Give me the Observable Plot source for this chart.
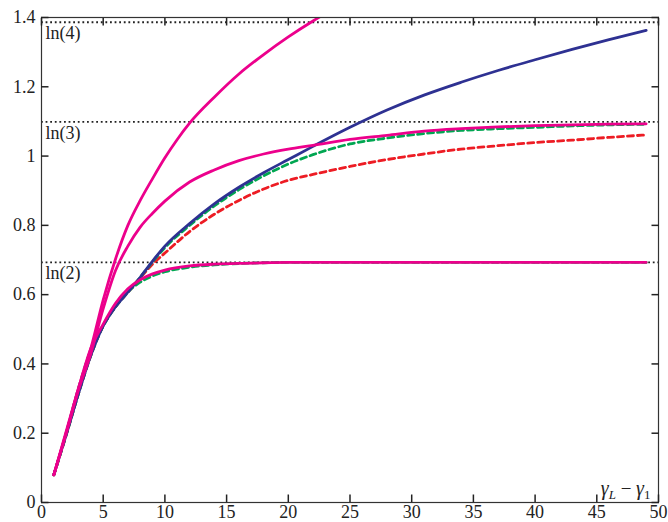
<!DOCTYPE html>
<html><head><meta charset="utf-8">
<script src="https://cdn.jsdelivr.net/npm/d3@7"></script>
<script src="https://cdn.jsdelivr.net/npm/@observablehq/plot@0.6"></script>
<style>body{margin:0;background:#fff}</style>
</head><body><div id="chart"></div>
<script>
// x positions (gamma_L - gamma_1)
const xs = [1,2,3,4,5,6,7,8,9,10,12,14,16,18,20,22,25,28,31,34,37,40,43,46,49];
const blueY  = [0.08,0.195,0.315,0.425,0.51,0.565,0.607,0.65,0.697,0.74,0.805,0.862,0.91,0.952,0.99,1.028,1.083,1.133,1.176,1.213,1.247,1.278,1.308,1.336,1.363];
const greenY = [0.08,0.195,0.315,0.425,0.51,0.565,0.607,0.65,0.695,0.736,0.8,0.856,0.903,0.943,0.977,1.004,1.035,1.052,1.065,1.074,1.079,1.083,1.087,1.09,1.092];
const redY   = [0.08,0.195,0.315,0.425,0.51,0.565,0.607,0.648,0.688,0.72,0.782,0.832,0.872,0.905,0.93,0.947,0.97,0.99,1.006,1.02,1.03,1.039,1.046,1.054,1.061];
const pinkLn3Y = [0.08,0.2,0.325,0.43,0.56,0.67,0.74,0.795,0.835,0.87,0.925,0.96,0.987,1.006,1.02,1.031,1.048,1.06,1.072,1.079,1.084,1.088,1.09,1.092,1.093];
const pinkLn2Y = [0.08,0.2,0.33,0.445,0.515,0.575,0.617,0.643,0.66,0.671,0.683,0.688,0.69,0.692,0.693,0.693,0.693,0.693,0.693,0.693,0.693,0.693,0.693,0.693,0.693];
const greenLowY = [0.08,0.2,0.33,0.44,0.51,0.567,0.608,0.636,0.654,0.666,0.679,0.686,0.69,0.692,0.693,0.693,0.693,0.693,0.693,0.693,0.693,0.693,0.693,0.693,0.693];
const xsLn4 = [1,2,3,4,5,6,7,8,9,10,11,12,14,16,18,20,22,24];
const pinkLn4Y = [0.08,0.205,0.33,0.445,0.585,0.703,0.8,0.872,0.935,0.995,1.048,1.095,1.17,1.237,1.293,1.344,1.39,1.432];

const refNames = ["ln(2)","ln(3)","ln(4)"];
const refValues = [Math.log(2), Math.log(3), Math.log(4)];
const xTicks = [0,5,10,15,20,25,30,35,40,45,50];
const yTicks = [0,0.2,0.4,0.6,0.8,1,1.2,1.4];
const xLabel = "γL − γ1";

const toRows = (X, Y) => X.map((x, i) => ({x, y: Y[i]}));
const FONT = "Liberation Serif, Times New Roman, serif";
const W = 668, H = 522, mL = 41, mR = 10, mT = 17, mB = 20;
const TL = 7.5;
const X0 = 0, X1 = 50, Y0 = 0, Y1 = 1.4;

const pink = "#ec008c", blue = "#2e3192", green = "#00a651", red = "#ed1c24";
const noText = () => "";

const plot = Plot.plot({
  width: W, height: H,
  marginLeft: mL, marginRight: mR, marginTop: mT, marginBottom: mB,
  style: {fontFamily: FONT, fontSize: "18px", background: "#fff", color: "#222"},
  x: {domain: [X0, X1]},
  y: {domain: [Y0, Y1]},
  marks: [
    Plot.ruleY(refValues, {y: d => d, stroke: "#222", strokeWidth: 1.8, strokeDasharray: "1.8,2.8"}),
    Plot.text(refNames, {x: () => 0, y: (d, i) => refValues[i], text: d => d, textAnchor: "start", lineAnchor: "top", dx: 4, dy: 4, fontSize: 18, fill: "#222"}),
    Plot.line(toRows(xs, greenLowY), {x: "x", y: "y", stroke: green, strokeWidth: 2.8, strokeDasharray: "6,4", curve: "monotone-x"}),
    Plot.line(toRows(xs, redY), {x: "x", y: "y", stroke: red, strokeWidth: 2.8, strokeDasharray: "6,4", curve: "monotone-x"}),
    Plot.line(toRows(xs, greenY), {x: "x", y: "y", stroke: green, strokeWidth: 2.8, strokeDasharray: "6,4", curve: "monotone-x"}),
    Plot.line(toRows(xs, blueY), {x: "x", y: "y", stroke: blue, strokeWidth: 2.8, curve: "monotone-x"}),
    Plot.line(toRows(xs, pinkLn2Y), {x: "x", y: "y", stroke: pink, strokeWidth: 2.8, curve: "monotone-x"}),
    Plot.line(toRows(xs, pinkLn3Y), {x: "x", y: "y", stroke: pink, strokeWidth: 2.8, curve: "monotone-x"}),
    Plot.line(toRows(xsLn4, pinkLn4Y), {x: "x", y: "y", stroke: pink, strokeWidth: 2.8, curve: "monotone-x", clip: true}),
    Plot.frame({stroke: "#333", strokeWidth: 1.2}),
    // inward ticks on all four sides (negative tick size)
    Plot.axisX(xTicks, {anchor: "bottom", tickSize: -TL, stroke: "#222", strokeWidth: 1.5, label: null, tickFormat: noText}),
    Plot.axisX(xTicks, {anchor: "top", tickSize: -TL, stroke: "#222", strokeWidth: 1.5, label: null, tickFormat: noText}),
    Plot.axisY(yTicks, {anchor: "left", tickSize: -TL, stroke: "#222", strokeWidth: 1.5, label: null, tickFormat: noText}),
    Plot.axisY(yTicks, {anchor: "right", tickSize: -TL, stroke: "#222", strokeWidth: 1.5, label: null, tickFormat: noText}),
    // tick labels
    Plot.axisX(xTicks, {anchor: "bottom", tickSize: 0, tickPadding: 3, label: null, fontSize: 18, tickFormat: d => String(d)}),
    Plot.axisY(yTicks, {anchor: "left", tickSize: 0, tickPadding: 6, label: null, fontSize: 18, tickFormat: d => String(+d.toFixed(1))}),
    Plot.text([xLabel], {x: () => X1, y: () => Y0, text: d => d, textAnchor: "end", lineAnchor: "bottom", dx: -8, dy: -8, fontSize: 19, fill: "#222"})
  ]
});
document.getElementById("chart").appendChild(plot);

// render subscripts in axis label
plot.querySelectorAll("text").forEach(t => {
  if (t.textContent === xLabel) {
    t.textContent = "";
    const ns = "http://www.w3.org/2000/svg";
    const parts = [["γ", "italic", 0, 20], ["L", "italic", 4, 13], [" − ", "normal", -4, 19], ["γ", "italic", 0, 20], ["1", "normal", 4, 13]];
    parts.forEach(([s, st, dy, fs]) => {
      const sp = document.createElementNS(ns, "tspan");
      sp.textContent = s;
      sp.setAttribute("font-style", st);
      sp.setAttribute("font-size", fs);
      if (dy) sp.setAttribute("dy", dy);
      t.appendChild(sp);
    });
  }
});
</script>
</body></html>
